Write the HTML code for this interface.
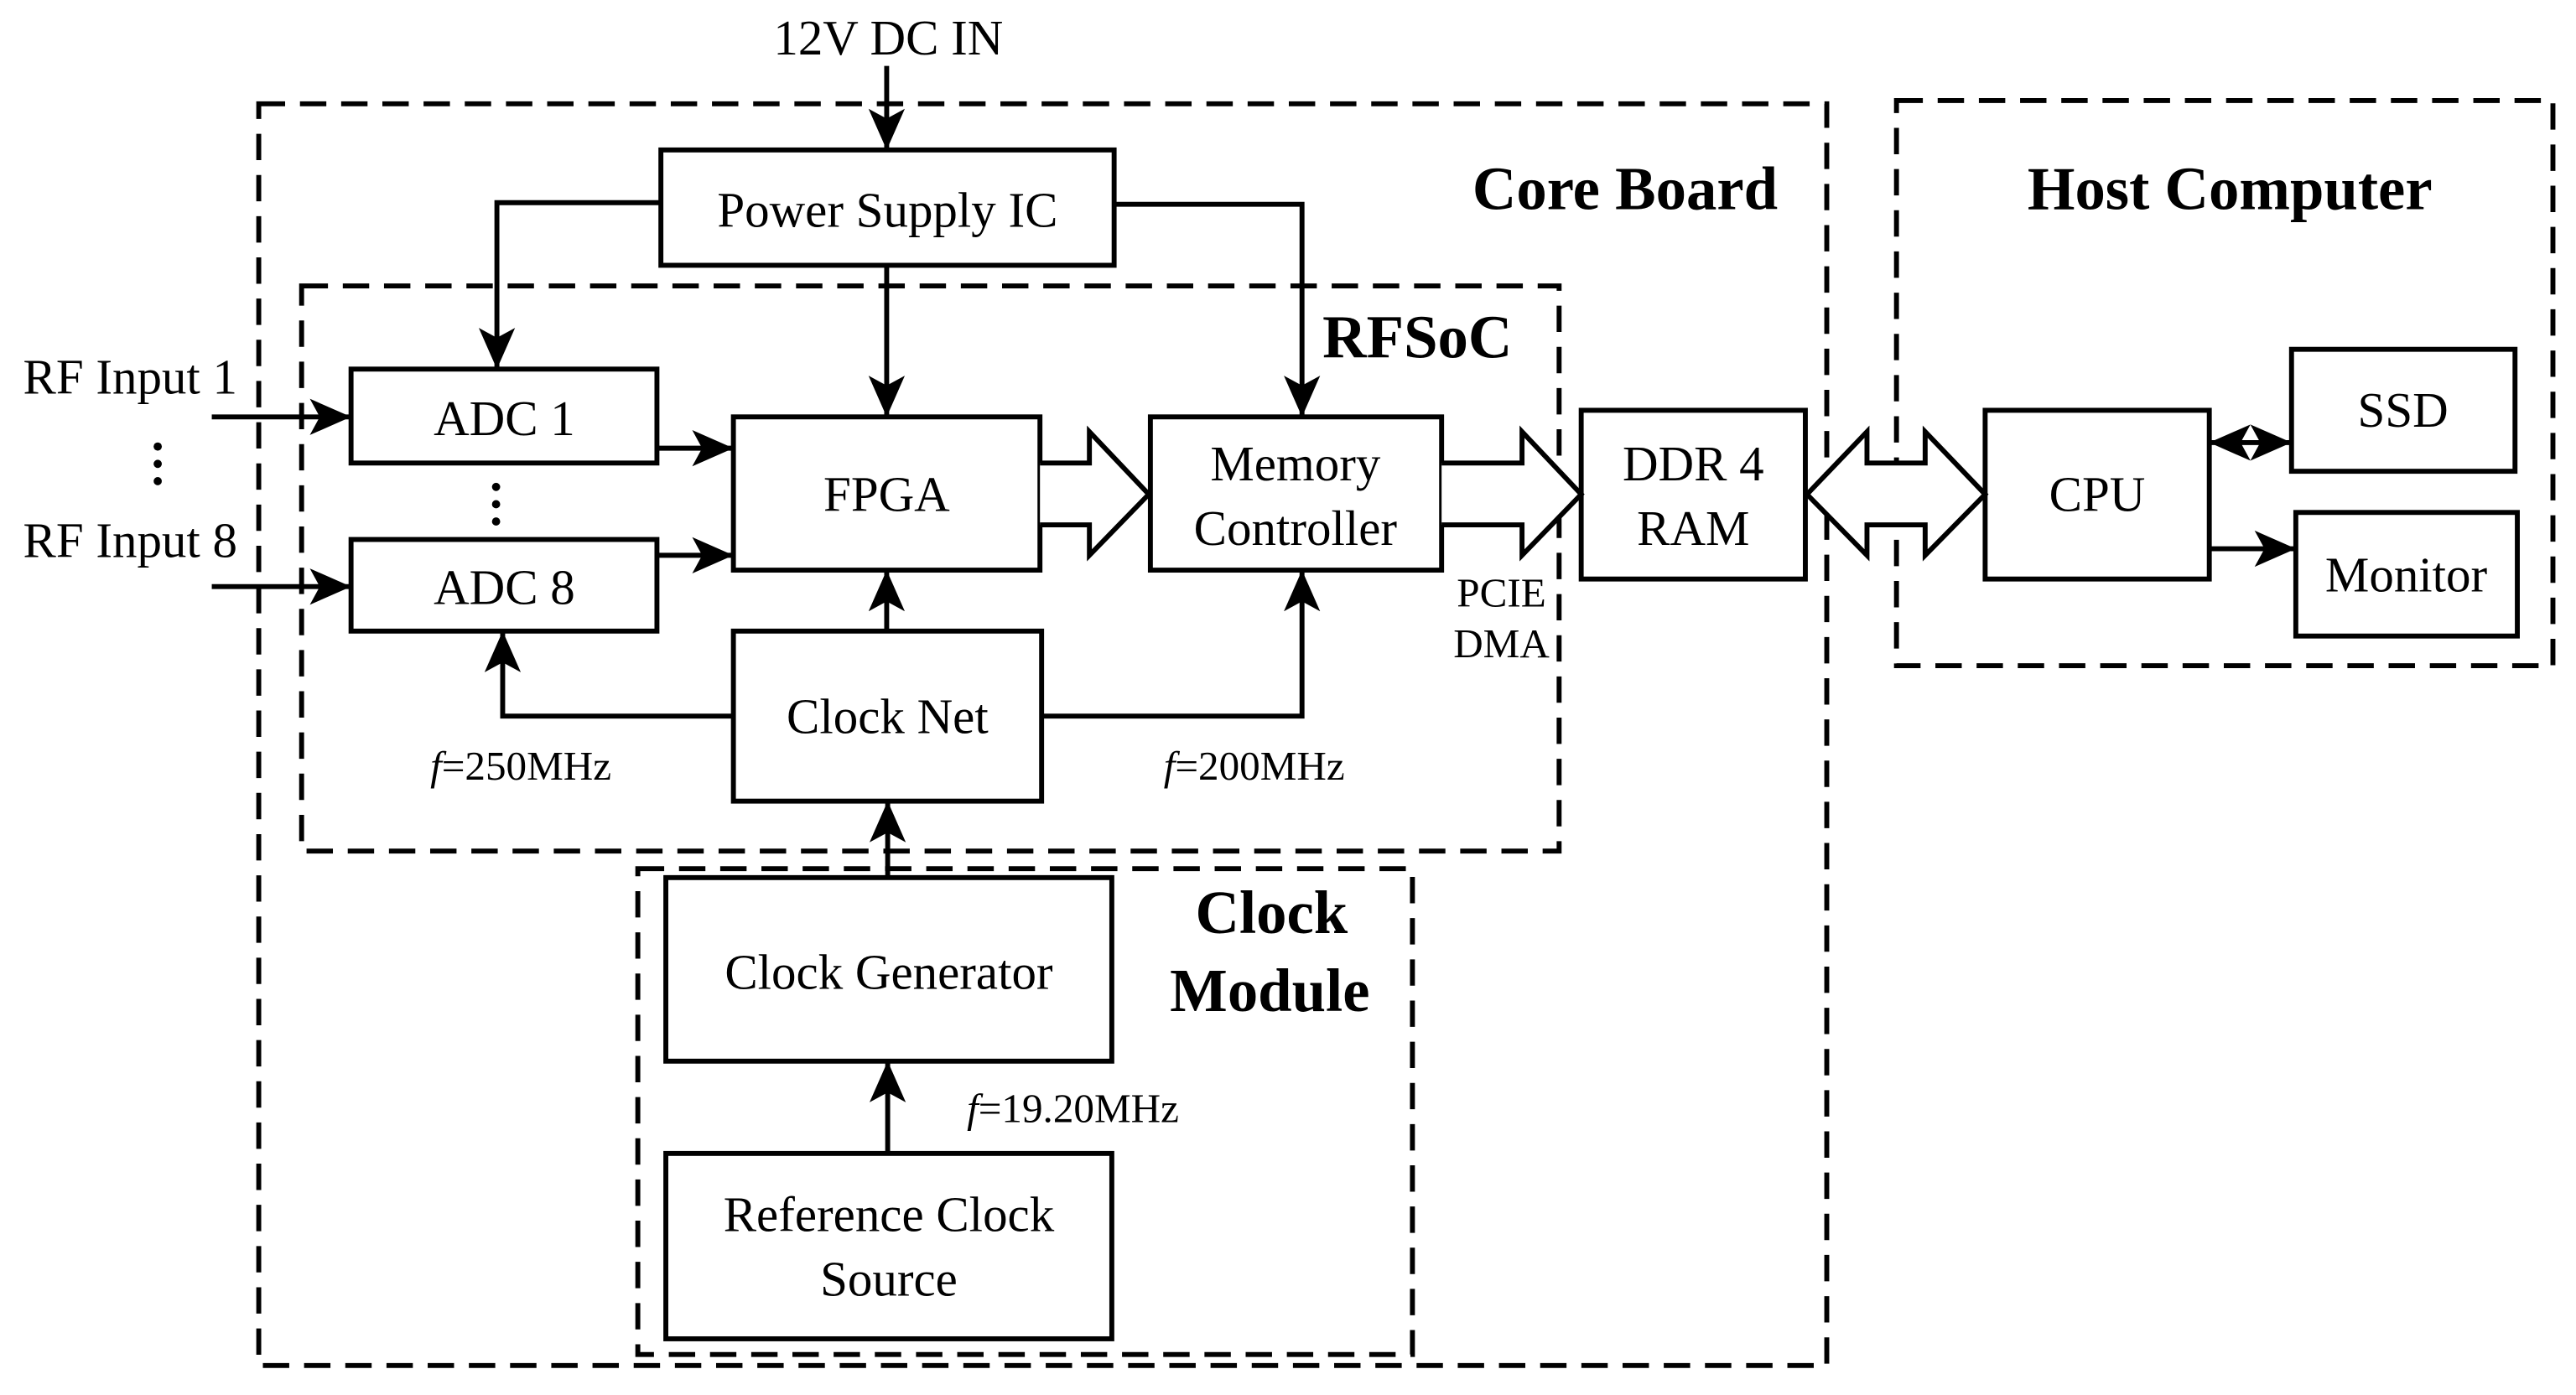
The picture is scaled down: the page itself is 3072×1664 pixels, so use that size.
<!DOCTYPE html>
<html><head><meta charset="utf-8"><style>
html,body{margin:0;padding:0;background:#fff}
svg{display:block}
text{font-family:"Liberation Serif","Times New Roman",Times,serif;fill:#000}
.b{font-weight:bold;font-size:37px}
.t{font-size:30px}
.s{font-size:25px}
</style></head><body>
<svg width="3072" height="1664" viewBox="0 0 1563 846.6" preserveAspectRatio="none" xmlns="http://www.w3.org/2000/svg" font-family="Liberation Serif, serif">
<defs>
<marker id="a" markerUnits="userSpaceOnUse" markerWidth="28" markerHeight="24" refX="25" refY="12" orient="auto">
<path d="M0,1 L25,12 L0,23 L6,12 Z" fill="#000"/>
</marker>
<marker id="as" markerUnits="userSpaceOnUse" markerWidth="28" markerHeight="24" refX="3" refY="12" orient="auto">
<path d="M28,1 L3,12 L28,23 L22,12 Z" fill="#000"/>
</marker>
</defs>
<g fill="none" stroke="#000" stroke-width="3" stroke-dasharray="16,9">
<rect x="157" y="63" width="951.4" height="765.7"/>
<rect x="183" y="173.5" width="763" height="343"/>
<rect x="387" y="527.2" width="470" height="294.8"/>
<rect x="1150.7" y="61" width="398.3" height="343"/>
</g>
<g fill="#fff" stroke="#000" stroke-width="3">
<rect x="401" y="91" width="275" height="70"/>
<rect x="213" y="224" width="185.6" height="57"/>
<rect x="213" y="327.4" width="185.6" height="55.6"/>
<rect x="445" y="253" width="186" height="93"/>
<rect x="698" y="253" width="176.7" height="93"/>
<rect x="445" y="383" width="187" height="103.2"/>
<rect x="959.4" y="249" width="136" height="102.4"/>
<rect x="1204.5" y="249" width="136" height="102.4"/>
<rect x="1390.4" y="212" width="135.6" height="74"/>
<rect x="1393" y="311" width="134.4" height="75"/>
<rect x="404" y="532.6" width="270.6" height="111.4"/>
<rect x="404" y="700" width="270.6" height="112.5"/>
</g>
<g fill="none" stroke="#000" stroke-width="3">
<line x1="538" y1="40" x2="538" y2="91" marker-end="url(#a)"/>
<polyline points="401,123 301.5,123 301.5,224" marker-end="url(#a)"/>
<polyline points="676,124 790,124 790,253" marker-end="url(#a)"/>
<line x1="538" y1="161" x2="538" y2="253" marker-end="url(#a)"/>
<line x1="128.5" y1="253" x2="213" y2="253" marker-end="url(#a)"/>
<line x1="128.5" y1="356" x2="213" y2="356" marker-end="url(#a)"/>
<line x1="398.6" y1="272" x2="445" y2="272" marker-end="url(#a)"/>
<line x1="398.6" y1="337" x2="445" y2="337" marker-end="url(#a)"/>
<line x1="538" y1="383" x2="538" y2="346" marker-end="url(#a)"/>
<polyline points="445,434.6 305,434.6 305,383" marker-end="url(#a)"/>
<polyline points="632,434.6 790,434.6 790,346" marker-end="url(#a)"/>
<line x1="538.6" y1="532.6" x2="538.6" y2="486.2" marker-end="url(#a)"/>
<line x1="538.6" y1="700" x2="538.6" y2="644" marker-end="url(#a)"/>
<line x1="1340.5" y1="268.6" x2="1390.4" y2="268.6" marker-start="url(#as)" marker-end="url(#a)"/>
<line x1="1340.5" y1="333" x2="1393" y2="333" marker-end="url(#a)"/>
<path d="M631,281 L661,281 L661,262 L697,300 L661,337 L661,318.5 L631,318.5" fill="#fff"/>
<path d="M874.7,281 L923.5,281 L923.5,262 L959.4,300 L923.5,337 L923.5,318.5 L874.7,318.5" fill="#fff"/>
<path d="M1096.4,300 L1132.8,262 L1132.8,281 L1168.1,281 L1168.1,262 L1204.5,300 L1168.1,337 L1168.1,318.5 L1132.8,318.5 L1132.8,337 Z" fill="#fff"/>
</g>
<g fill="#000">
<circle cx="95.7" cy="271" r="2.5"/><circle cx="95.7" cy="281.5" r="2.5"/><circle cx="95.7" cy="292" r="2.5"/>
<circle cx="301" cy="295.5" r="2.5"/><circle cx="301" cy="306" r="2.5"/><circle cx="301" cy="316.5" r="2.5"/>
</g>
<text class="t" x="539" y="33" text-anchor="middle">12V DC IN</text>
<text class="t" x="538.5" y="137.6" text-anchor="middle">Power Supply IC</text>
<text class="t" x="306" y="264" text-anchor="middle">ADC 1</text>
<text class="t" x="306" y="366.5" text-anchor="middle">ADC 8</text>
<text class="t" x="538" y="310" text-anchor="middle">FPGA</text>
<text class="t" x="786" y="291.5" text-anchor="middle">Memory</text>
<text class="t" x="786" y="330.6" text-anchor="middle">Controller</text>
<text class="t" x="538.5" y="445" text-anchor="middle">Clock Net</text>
<text class="t" x="1027.4" y="291.5" text-anchor="middle">DDR 4</text>
<text class="t" x="1027.4" y="330.6" text-anchor="middle">RAM</text>
<text class="t" x="1272.5" y="310" text-anchor="middle">CPU</text>
<text class="t" x="1458" y="259" text-anchor="middle">SSD</text>
<text class="t" x="1460" y="359" text-anchor="middle">Monitor</text>
<text class="t" x="539.3" y="600" text-anchor="middle">Clock Generator</text>
<text class="t" x="539.3" y="747.2" text-anchor="middle">Reference Clock</text>
<text class="t" x="539.3" y="786.3" text-anchor="middle">Source</text>
<text class="t" x="79" y="239" text-anchor="middle">RF Input 1</text>
<text class="t" x="79" y="338" text-anchor="middle">RF Input 8</text>
<text class="s" x="911" y="368" text-anchor="middle">PCIE</text>
<text class="s" x="911" y="399" text-anchor="middle">DMA</text>
<text class="s" x="316" y="473.2" text-anchor="middle"><tspan font-style="italic">f</tspan>=250MHz</text>
<text class="s" x="761" y="473.2" text-anchor="middle"><tspan font-style="italic">f</tspan>=200MHz</text>
<text class="s" x="651" y="681" text-anchor="middle"><tspan font-style="italic">f</tspan>=19.20MHz</text>
<text class="b" x="986" y="127" text-anchor="middle">Core Board</text>
<text class="b" x="1353" y="127" text-anchor="middle">Host Computer</text>
<text class="b" x="860" y="217" text-anchor="middle">RFSoC</text>
<text class="b" x="771.5" y="566.3" text-anchor="middle">Clock</text>
<text class="b" x="770.5" y="613.6" text-anchor="middle">Module</text>
</svg>
</body></html>
